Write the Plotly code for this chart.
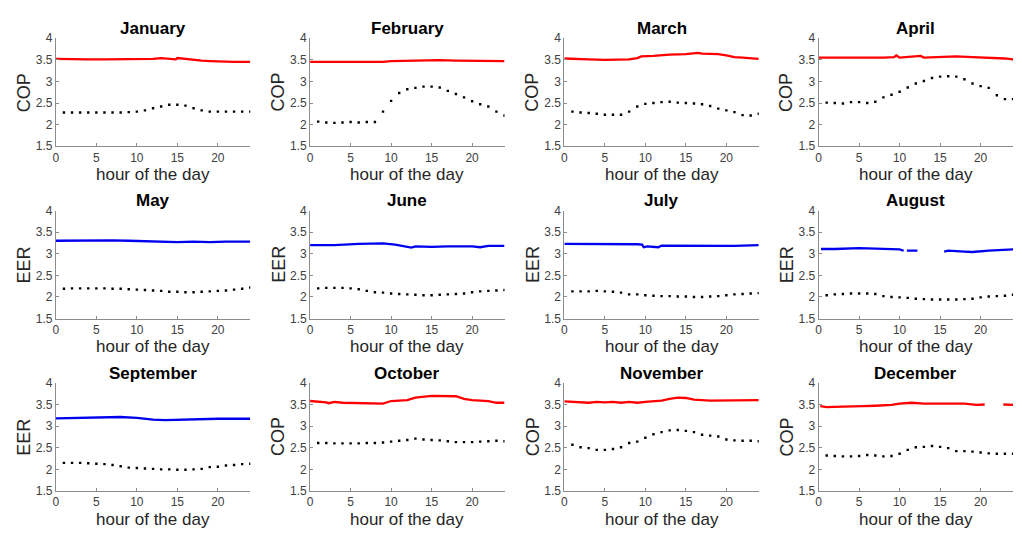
import plotly.graph_objects as go

months = ["January", "February", "March", "April", "May", "June",
          "July", "August", "September", "October", "November", "December"]
metric = ["COP", "COP", "COP", "COP", "EER", "EER",
          "EER", "EER", "EER", "COP", "COP", "COP"]

dot_hours = list(range(1, 25))

# Black dotted series (one value per hour 1..24)
jan_dots = [2.28, 2.28, 2.28, 2.28, 2.28, 2.28, 2.28, 2.28, 2.29, 2.30, 2.33, 2.38,
            2.42, 2.46, 2.46, 2.44, 2.38, 2.33, 2.30, 2.30, 2.30, 2.30, 2.30, 2.30]
feb_dots = [2.07, 2.05, 2.04, 2.05, 2.06, 2.05, 2.06, 2.06, 2.30, 2.55, 2.73, 2.82,
            2.85, 2.88, 2.88, 2.86, 2.78, 2.71, 2.63, 2.54, 2.47, 2.42, 2.30, 2.21]
mar_dots = [2.30, 2.28, 2.27, 2.25, 2.23, 2.23, 2.23, 2.30, 2.42, 2.48, 2.50, 2.52,
            2.53, 2.51, 2.50, 2.49, 2.47, 2.43, 2.37, 2.33, 2.29, 2.22, 2.21, 2.25]
apr_dots = [2.51, 2.50, 2.49, 2.52, 2.52, 2.50, 2.53, 2.63, 2.69, 2.76, 2.86, 2.95,
            3.01, 3.08, 3.11, 3.12, 3.11, 3.05, 2.95, 2.89, 2.85, 2.68, 2.59, 2.59]
may_dots = [2.19, 2.20, 2.20, 2.20, 2.20, 2.20, 2.19, 2.19, 2.18, 2.17, 2.16, 2.15,
            2.14, 2.12, 2.12, 2.11, 2.11, 2.12, 2.13, 2.14, 2.15, 2.17, 2.19, 2.22]
jun_dots = [2.20, 2.21, 2.21, 2.21, 2.20, 2.18, 2.14, 2.11, 2.10, 2.08, 2.07, 2.06,
            2.05, 2.04, 2.04, 2.05, 2.06, 2.07, 2.08, 2.11, 2.13, 2.14, 2.15, 2.16]
jul_dots = [2.13, 2.13, 2.13, 2.14, 2.13, 2.12, 2.10, 2.06, 2.06, 2.04, 2.03, 2.02,
            2.02, 2.01, 2.01, 2.00, 2.00, 2.01, 2.02, 2.04, 2.06, 2.07, 2.08, 2.09]
aug_dots = [2.04, 2.06, 2.07, 2.08, 2.08, 2.08, 2.07, 2.02, 2.00, 1.99, 1.98, 1.96,
            1.95, 1.94, 1.94, 1.94, 1.94, 1.95, 1.96, 1.99, 2.01, 2.02, 2.03, 2.05]
sep_dots = [2.15, 2.15, 2.15, 2.14, 2.13, 2.12, 2.10, 2.07, 2.04, 2.03, 2.02, 2.01,
            2.00, 2.00, 1.99, 1.99, 2.00, 2.01, 2.05, 2.06, 2.09, 2.10, 2.12, 2.13]
oct_dots = [2.61, 2.61, 2.60, 2.60, 2.60, 2.60, 2.61, 2.61, 2.62, 2.64, 2.66, 2.68,
            2.71, 2.69, 2.68, 2.67, 2.65, 2.63, 2.63, 2.63, 2.64, 2.65, 2.66, 2.65]
nov_dots = [2.57, 2.51, 2.49, 2.45, 2.45, 2.47, 2.51, 2.61, 2.64, 2.73, 2.81, 2.86,
            2.90, 2.91, 2.89, 2.86, 2.80, 2.78, 2.76, 2.69, 2.67, 2.66, 2.66, 2.65]
dec_dots = [2.32, 2.31, 2.30, 2.30, 2.31, 2.33, 2.32, 2.30, 2.31, 2.36, 2.45, 2.51,
            2.52, 2.54, 2.52, 2.49, 2.42, 2.42, 2.41, 2.39, 2.37, 2.36, 2.36, 2.36]

# Coloured efficiency line (hour, value); None marks a gap in the record
jan_line_h = [0, 2, 4, 6, 8, 10, 12, 13, 13.5, 14.8, 15, 15.5, 16, 17, 18, 19, 20, 22, 24]
jan_line_v = [3.52, 3.51, 3.51, 3.51, 3.51, 3.51, 3.52, 3.54, 3.53, 3.51, 3.54, 3.53, 3.51,
              3.49, 3.48, 3.47, 3.46, 3.45, 3.45]
feb_line_h = [0, 2, 4, 6, 8, 9, 10, 12, 14, 16, 18, 20, 22, 24]
feb_line_v = [3.45, 3.45, 3.45, 3.45, 3.44, 3.45, 3.47, 3.48, 3.49, 3.49, 3.48, 3.48, 3.48, 3.47]
mar_line_h = [0, 1, 3, 5, 7, 8, 9, 9.5, 11, 13, 15, 16.5, 17, 19, 20, 21, 22, 24]
mar_line_v = [3.53, 3.52, 3.51, 3.50, 3.50, 3.51, 3.54, 3.58, 3.59, 3.62, 3.63, 3.66, 3.64,
              3.63, 3.60, 3.56, 3.55, 3.52]
apr_line_h = [0, 2, 4, 6, 8, 9.3, 9.6, 10, 12, 12.6, 13, 15, 17, 19, 21, 23, 24]
apr_line_v = [3.55, 3.55, 3.54, 3.55, 3.55, 3.56, 3.60, 3.55, 3.59, 3.59, 3.55, 3.57, 3.58,
              3.56, 3.55, 3.53, 3.51]
may_line_h = [0, 3, 5, 7, 9, 11, 13, 15, 17, 19, 21, 24]
may_line_v = [3.30, 3.31, 3.31, 3.31, 3.30, 3.29, 3.27, 3.27, 3.28, 3.27, 3.28, 3.28]
jun_line_h = [0, 3, 6, 9, 10.5, 11.5, 12, 12.5, 13, 15, 17, 20, 21, 22, 24]
jun_line_v = [3.20, 3.20, 3.23, 3.24, 3.21, 3.17, 3.15, 3.14, 3.17, 3.16, 3.17, 3.17, 3.15, 3.18, 3.18]
jul_line_h = [0, 3, 6, 9, 9.6, 9.8, 10.2, 11, 11.6, 12, 15, 18, 21, 24]
jul_line_v = [3.23, 3.23, 3.23, 3.22, 3.21, 3.15, 3.17, 3.16, 3.15, 3.19, 3.19, 3.18, 3.18, 3.20]
aug_line_h = [0.3, 2, 5, 8, 10, 10.5, None, 10.9, 12.2, None, 15.5, 16, 18, 19, 21, 23, 24]
aug_line_v = [3.11, 3.11, 3.13, 3.12, 3.10, 3.07, None, 3.07, 3.07, None, 3.05, 3.07, 3.05,
              3.04, 3.07, 3.08, 3.10]
sep_line_h = [0, 3, 5, 8, 10, 12, 13.5, 15, 18, 20, 24]
sep_line_v = [3.18, 3.19, 3.20, 3.21, 3.19, 3.15, 3.14, 3.15, 3.16, 3.17, 3.17]
oct_line_h = [0, 1, 2, 2.3, 3, 4, 6, 8, 9, 10, 12, 13, 14, 15, 18, 19, 20, 22, 23, 24]
oct_line_v = [3.58, 3.57, 3.55, 3.53, 3.56, 3.54, 3.53, 3.53, 3.52, 3.58, 3.60, 3.66, 3.68,
              3.70, 3.69, 3.63, 3.60, 3.58, 3.54, 3.54]
nov_line_h = [0, 2, 3, 4, 5, 6, 7, 8, 9, 10, 12, 13, 14, 15, 16, 18, 20, 22, 24]
nov_line_v = [3.57, 3.56, 3.54, 3.56, 3.55, 3.56, 3.54, 3.56, 3.54, 3.56, 3.59, 3.63, 3.66,
              3.65, 3.61, 3.59, 3.59, 3.59, 3.60]
dec_line_h = [0.2, 1, 3, 5, 5.5, 7, 9, 10, 11.5, 13, 15, 18, 19.5, 20.5, None, 22.8, 24]
dec_line_v = [3.46, 3.44, 3.45, 3.47, 3.46, 3.47, 3.49, 3.52, 3.54, 3.52, 3.52, 3.52, 3.49,
              3.50, None, 3.50, 3.49]

dots_all = [jan_dots, feb_dots, mar_dots, apr_dots, may_dots, jun_dots,
            jul_dots, aug_dots, sep_dots, oct_dots, nov_dots, dec_dots]
line_h_all = [jan_line_h, feb_line_h, mar_line_h, apr_line_h, may_line_h, jun_line_h,
              jul_line_h, aug_line_h, sep_line_h, oct_line_h, nov_line_h, dec_line_h]
line_v_all = [jan_line_v, feb_line_v, mar_line_v, apr_line_v, may_line_v, jun_line_v,
              jul_line_v, aug_line_v, sep_line_v, oct_line_v, nov_line_v, dec_line_v]

x_ticks = [0, 5, 10, 15, 20]
y_ticks = [1.5, 2, 2.5, 3, 3.5, 4]
y_tick_text = ["1.5", "2", "2.5", "3", "3.5", "4"]

W, H = 1022, 533
col_left = [53, 308, 563, 818]
plot_w = 195
row_top = [32, 209, 386]
plot_h = 111

FONT = "Liberation Sans, Arial, sans-serif"
AXIS_GRAY = "#8c8c8c"
TICK_COLOR = "#404040"

fig = go.Figure()
layout = dict(
    width=W, height=H,
    margin=dict(l=0, r=0, t=0, b=0),
    paper_bgcolor="white", plot_bgcolor="white",
    showlegend=False,
    font=dict(family=FONT),
)
annotations = []

for i in range(12):
    r, c = divmod(i, 4)
    n = i + 1
    xa = "x" if n == 1 else f"x{n}"
    ya = "y" if n == 1 else f"y{n}"
    x0 = col_left[c] / W
    x1 = (col_left[c] + plot_w) / W
    y1 = 1 - row_top[r] / H
    y0 = 1 - (row_top[r] + plot_h) / H
    color = "#ff0000" if metric[i] == "COP" else "#0000ee"

    fig.add_trace(go.Scatter(
        x=line_h_all[i], y=line_v_all[i], mode="lines",
        line=dict(color=color, width=2.3), connectgaps=False,
        xaxis=xa, yaxis=ya, hoverinfo="skip"))
    fig.add_trace(go.Scatter(
        x=dot_hours, y=dots_all[i], mode="markers",
        marker=dict(color="black", size=2.4, symbol="square", line=dict(width=0)),
        xaxis=xa, yaxis=ya, hoverinfo="skip"))

    axis_common = dict(
        showgrid=False, zeroline=False, showline=True, linecolor=AXIS_GRAY,
        linewidth=1, ticks="inside", ticklen=3, tickcolor=AXIS_GRAY,
        tickfont=dict(family=FONT, size=12, color=TICK_COLOR),
    )
    layout["xaxis" if n == 1 else f"xaxis{n}"] = dict(
        axis_common, domain=[x0, x1], range=[0, 24], tickvals=x_ticks,
        anchor=ya, fixedrange=True)
    layout["yaxis" if n == 1 else f"yaxis{n}"] = dict(
        axis_common, domain=[y0, y1], range=[1.5, 4], tickvals=y_ticks,
        ticktext=y_tick_text, anchor=xa, fixedrange=True)

    cx = (col_left[c] + plot_w / 2) / W
    annotations.append(dict(
        text=f"<b>{months[i]}</b>", x=cx, y=1 - (row_top[r] - 10) / H,
        xref="paper", yref="paper", showarrow=False,
        font=dict(family=FONT, size=17, color="black"),
        xanchor="center", yanchor="middle"))
    annotations.append(dict(
        text="hour of the day", x=cx, y=1 - (row_top[r] + plot_h + 29) / H,
        xref="paper", yref="paper", showarrow=False,
        font=dict(family=FONT, size=17, color="#262626"),
        xanchor="center", yanchor="middle"))
    annotations.append(dict(
        text=metric[i], x=(col_left[c] - 32) / W,
        y=1 - (row_top[r] + plot_h / 2) / H,
        xref="paper", yref="paper", showarrow=False, textangle=-90,
        font=dict(family=FONT, size=18, color="#262626"),
        xanchor="center", yanchor="middle"))

layout["annotations"] = annotations
fig.update_layout(**layout)
fig.write_html("out.html")
